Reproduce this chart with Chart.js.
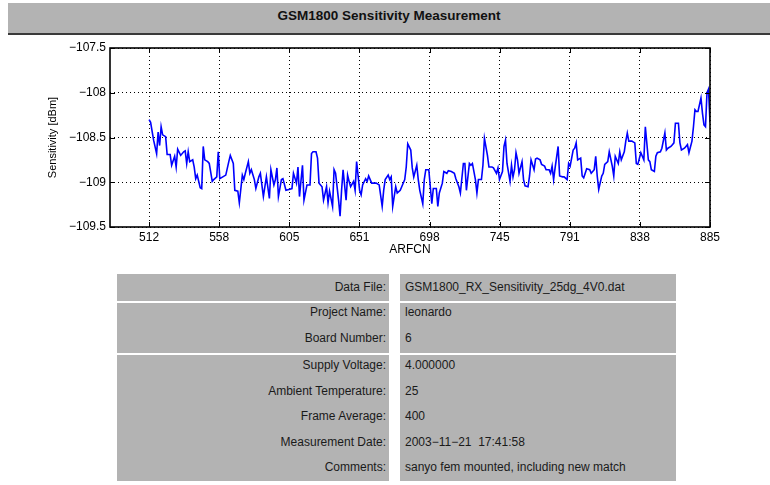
<!DOCTYPE html>
<html><head><meta charset="utf-8">
<script src="https://cdn.jsdelivr.net/npm/chart.js@4/dist/chart.umd.min.js"></script>
<style>
html,body{margin:0;padding:0;background:#fff;width:770px;height:485px;overflow:hidden;font-family:"Liberation Sans",Arial,Helvetica,sans-serif;}
#titlebar{position:absolute;left:8px;top:3px;width:762px;height:30px;background:#b3b3b3;border-bottom:2px solid #3a3a3a;text-align:center;font-weight:bold;font-size:13.5px;line-height:26px;color:#111;}
#chartwrap{position:absolute;left:0;top:36px;width:770px;height:229px;}
.blk{position:absolute;background:#b3b3b3;}
.lab,.val{position:absolute;font-size:12px;line-height:16px;height:16px;color:#1a1a1a;white-space:nowrap;}
.lab{left:117px;width:269px;text-align:right;}
.val{left:405px;}
</style>
</head><body>
<div id="titlebar">GSM1800 Sensitivity Measurement</div>
<div id="chartwrap"><canvas id="c" width="770" height="229"></canvas></div>
<div id="table"></div>
<script>
// ---- data ----
const chartTitle = "GSM1800 Sensitivity Measurement";
const xAxisTitle = "ARFCN";
const yAxisTitle = "Sensitivity [dBm]";
const xTickLabels = ["512","558","605","651","698","745","791","838","885"];
const yTickValues = [-109.5,-109,-108.5,-108,-107.5];
const yTickLabels = ["\u2212109.5","\u2212109","\u2212108.5","\u2212108","\u2212107.5"];
const arfcn = [
512,513,515,517,518,519,520,521,523,524,526,527,529,530,531,533,535,536,537,538,539,541,542,543,544,546,547,548,549,551,552,554,555,557,558,559,561,563,565,566,568,569,571,572,574,575,576,578,579,580,582,583,585,586,588,589,590,592,593,595,596,597,598,600,601,603,605,607,608,610,611,612,614,615,617,619,620,621,623,624,625,627,628,630,631,
632,634,635,636,638,639,640,641,643,644,645,646,648,649,650,652,653,654,656,657,658,660,661,663,665,667,668,669,671,672,673,674,676,677,679,680,682,683,684,686,687,688,690,691,692,694,695,696,698,700,701,703,704,705,707,708,710,711,713,715,716,718,719,721,722,723,725,726,727,729,730,731,733,734,735,737,738,740,741,743,744,745,747,748,749,750,752,753,754,755,
756,757,758,760,761,762,764,765,766,768,769,770,772,773,775,776,778,779,780,781,782,784,785,787,788,790,791,792,794,795,796,797,799,800,801,803,805,806,808,809,810,811,813,814,815,817,818,820,821,822,824,825,826,828,829,830,831,833,835,836,837,839,840,841,842,844,845,846,848,849,850,852,853,855,856,857,859,860,861,862,864,865,866,868,869,870,871,873,874,875,876,877,879,880,881,882,883,884,885];
const sensitivity = [
-108.30,-108.33,-108.53,-108.68,-108.44,-108.59,-108.38,-108.47,-108.49,-108.69,-108.69,-108.81,-108.71,-108.83,-108.63,-108.70,-108.66,-108.65,-108.79,-108.66,-108.77,-108.75,-108.83,-108.96,-108.92,-109.06,-109.07,-108.60,-108.75,-108.77,-108.79,-108.99,-108.97,-108.94,-108.66,-108.96,-108.94,-108.92,-108.77,-108.70,-108.79,-109.09,-109.10,-109.23,-108.92,-108.97,-108.90,-108.77,-108.90,-108.86,-108.97,-109.07,-108.94,-108.90,-109.16,-109.05,-108.94,-109.18,-108.86,-109.03,-108.97,-108.84,-109.16,-108.97,-108.96,-109.09,-109.08,-109.07,-108.90,-109.01,-108.83,-109.16,-108.81,-109.20,-109.03,-109.03,-108.68,-108.66,-108.66,-108.73,-109.01,-109.05,-109.20,-109.05,-109.23,
-109.10,-109.27,-108.86,-108.90,-109.20,-109.38,-109.09,-108.86,-109.20,-108.92,-108.99,-109.05,-108.99,-109.09,-108.77,-109.09,-109.14,-109.03,-108.96,-108.99,-108.93,-109.01,-109.01,-109.01,-109.03,-109.27,-109.09,-108.97,-108.92,-108.97,-108.94,-109.27,-109.05,-109.12,-109.09,-109.05,-108.97,-108.83,-108.57,-108.64,-108.84,-108.94,-108.81,-108.97,-109.09,-109.24,-108.97,-108.86,-108.86,-109.24,-109.07,-109.07,-109.27,-109.12,-109.01,-108.88,-108.90,-108.87,-108.88,-108.90,-108.96,-109.05,-109.12,-108.79,-108.79,-109.09,-108.79,-108.81,-108.79,-108.97,-109.12,-108.97,-108.97,-108.81,-108.51,-108.70,-108.83,-108.83,-108.84,-108.90,-108.84,-108.97,-108.88,-108.60,-108.53,-108.79,-108.99,-108.81,-108.94,-108.86,
-108.67,-108.75,-108.90,-108.77,-108.97,-109.04,-109.05,-108.93,-108.75,-108.86,-108.74,-108.73,-108.75,-108.80,-108.82,-108.86,-108.86,-108.90,-108.82,-108.97,-108.84,-108.60,-108.93,-108.94,-108.94,-108.97,-108.79,-108.82,-108.64,-108.62,-108.56,-108.75,-108.73,-108.93,-108.95,-108.85,-108.86,-108.90,-108.86,-108.71,-108.93,-109.08,-108.93,-108.90,-108.80,-108.77,-108.66,-108.82,-108.93,-108.71,-108.79,-108.66,-108.75,-108.66,-108.54,-108.45,-108.54,-108.54,-108.56,-108.79,-108.80,-108.67,-108.71,-108.75,-108.38,-108.75,-108.77,-108.86,-108.88,-108.71,-108.67,-108.66,-108.62,-108.45,-108.64,-108.62,-108.60,-108.58,-108.56,-108.34,-108.34,-108.56,-108.64,-108.62,-108.60,-108.58,-108.67,-108.54,-108.38,-108.19,-108.21,-108.21,-108.06,-108.23,-108.36,-108.38,-108.00,-107.96,-108.33];
const tableLabels = ["Data File:","Project Name:","Board Number:","Supply Voltage:","Ambient Temperature:","Frame Average:","Measurement Date:","Comments:"];
const tableValues = ["GSM1800_RX_Sensitivity_25dg_4V0.dat","leonardo","6","4.000000","25","400","2003\u221211\u221221  17:41:58","sanyo fem mounted, including new match"];

// ---- layout (page coordinates) ----
const rowCenters = [287,312,338,365,391,416,442,467];
const blocks = [[274,301],[303,353],[355,481]];
const table = document.getElementById('table');
blocks.forEach(([t,b])=>{
  [[117,272],[400,276]].forEach(([l,w])=>{
    const d=document.createElement('div'); d.className='blk';
    d.style.left=l+'px'; d.style.width=w+'px'; d.style.top=t+'px'; d.style.height=(b-t)+'px';
    table.appendChild(d);
  });
});
tableLabels.forEach((s,i)=>{
  const a=document.createElement('div'); a.className='lab'; a.textContent=s; a.style.top=(rowCenters[i]-8)+'px'; table.appendChild(a);
  const v=document.createElement('div'); v.className='val'; v.textContent=tableValues[i]; v.style.whiteSpace='pre'; v.style.top=(rowCenters[i]-8)+'px'; table.appendChild(v);
});
document.getElementById('titlebar').textContent = chartTitle;

const xStart = Number(xTickLabels[0]), xEnd = Number(xTickLabels[xTickLabels.length-1]);
const xTickValues = xTickLabels.map((_,i)=> xStart + i*(xEnd-xStart)/(xTickLabels.length-1));

const frame = {
  id:'frame',
  afterDatasetsDraw(chart){
    const {ctx, chartArea:a, scales:{x,y}} = chart;
    ctx.save();
    ctx.strokeStyle='#000';
    ctx.lineWidth=1;
    ctx.beginPath();
    x.ticks.forEach(t=>{const p=Math.round(x.getPixelForValue(t.value))+0.5; ctx.moveTo(p,a.bottom); ctx.lineTo(p,a.bottom-5); ctx.moveTo(p,a.top); ctx.lineTo(p,a.top+5);});
    y.ticks.forEach(t=>{const p=Math.round(y.getPixelForValue(t.value))+0.5; ctx.moveTo(a.left,p); ctx.lineTo(a.left+5,p); ctx.moveTo(a.right,p); ctx.lineTo(a.right-5,p);});
    ctx.stroke();
    ctx.lineWidth=1.6;
    ctx.strokeRect(a.left, a.top, a.right-a.left, a.bottom-a.top);
    ctx.restore();
  }
};

const font = {family:'"Liberation Sans", Arial, Helvetica, sans-serif', size:12};
new Chart(document.getElementById('c'), {
  type:'line',
  data:{datasets:[{
    data: arfcn.map((a,i)=>({x:a, y:sensitivity[i]})),
    borderColor:'#0000ff', borderWidth:1.6, pointRadius:0, fill:false, tension:0
  }]},
  options:{
    responsive:false, animation:false, devicePixelRatio:1,
    layout:{padding:{left:0,right:60,top:12,bottom:0}},
    plugins:{legend:{display:false}, tooltip:{enabled:false}},
    scales:{
      x:{type:'linear', min:486, max:885,
        afterBuildTicks(s){ s.ticks = xTickValues.map(v=>({value:v})); },
        afterFit(s){ s.height = 38; },
        ticks:{color:'#000', font, padding:3, maxRotation:0, autoSkip:false, callback:(v,i)=>xTickLabels[i]},
        grid:{color:'#000', lineWidth:1, drawTicks:false},
        border:{display:false, dash:[1,3]},
        title:{display:true, text:xAxisTitle, color:'#000', font, padding:{top:0,bottom:8}}
      },
      y:{type:'linear', min:-109.5, max:-107.5,
        afterBuildTicks(s){ s.ticks = yTickValues.map(v=>({value:v})); },
        afterFit(s){ s.width = 110; },
        ticks:{color:'#000', font, padding:4, callback:(v,i)=>yTickLabels[i]},
        grid:{color:'#000', lineWidth:1, drawTicks:false},
        border:{display:false, dash:[1,3]},
        title:{display:true, text:yAxisTitle, color:'#000', font:{family:font.family, size:11}, padding:{top:46,bottom:0}}
      }
    }
  },
  plugins:[frame]
});
</script>
</body></html>
